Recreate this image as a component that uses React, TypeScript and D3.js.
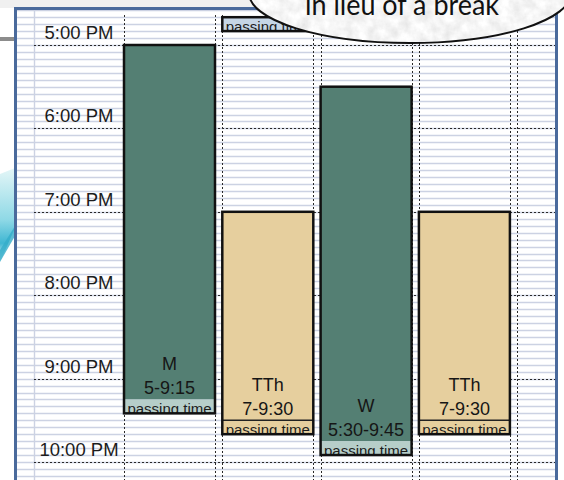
import React from "react";
import * as d3 from "d3";

// schedule data (times as h:mm, 24h)
const days = ["M", "TTh", "W", "TTh"];
const spans = ["5-9:15", "7-9:30", "5:30-9:45", "7-9:30"];
const classStart = ["17:00", "19:00", "17:30", "19:00"];
const classEnd = ["21:15", "21:30", "21:45", "21:30"];
const passingEnd = ["21:25", "21:40", "21:55", "21:40"];

// the stray passing-time block above 5 PM in the TTh column
const topPassingCol = [1];
const topPassingFrom = ["16:40"];
const topPassingTo = ["16:50"];

const hourTicks = ["17:00", "18:00", "19:00", "20:00", "21:00", "22:00"];
const hourLabels = ["5:00 PM", "6:00 PM", "7:00 PM", "8:00 PM", "9:00 PM", "10:00 PM"];
const calloutText = "in lieu of a break";

const toMin = (s: string) => {
  const [h, m] = s.split(":").map(Number);
  return h * 60 + m;
};

const W = 564;
const H = 480;

const GREEN = "#547f73";
const GREEN_PASS = "#b6cec9";
const TAN = "#e6cf9e";
const TOP_PASS = "#c6d6e6";
const FONT = "'Liberation Sans', Arial, sans-serif";

export default function App() {
  const y = d3
    .scaleLinear()
    .domain([toMin(hourTicks[0]), toMin(hourTicks[hourTicks.length - 1])])
    .range([45, 462]);

  const x = d3
    .scaleBand<number>()
    .domain(d3.range(5))
    .range([124, 608.2])
    .paddingInner(0.0743)
    .paddingOuter(0)
    .align(0);

  const bw = x.bandwidth();
  const rows = d3.range(toMin("16:15"), toMin("22:25"), 5);
  const isTan = (d: string) => d === "TTh";

  const vLines: number[] = [];
  d3.range(5).forEach((i) => {
    vLines.push(x(i)!);
    if (i < days.length) vLines.push(x(i)! + bw);
  });

  return (
    <svg
      width={W}
      height={H}
      style={{ position: "absolute", left: 0, top: 0 }}
      fontFamily={FONT}
    >
      <defs>
        <linearGradient id="swoosh" x1="0" y1="0" x2="0" y2="1">
          <stop offset="0" stopColor="#e4f6f7" />
          <stop offset="0.55" stopColor="#8fd9e6" />
          <stop offset="0.8" stopColor="#3fb6d2" />
          <stop offset="1" stopColor="#f3fafb" />
        </linearGradient>
        <filter id="paper" x="0" y="0" width="1" height="1">
          <feTurbulence type="fractalNoise" baseFrequency="0.09" numOctaves="4" seed="3" result="n" />
          <feColorMatrix
            in="n"
            type="matrix"
            values="0.35 0 0 0 0.74  0.35 0 0 0 0.74  0.35 0 0 0 0.74  0 0 0 0 1"
            result="g"
          />
          <feComposite in="g" in2="SourceGraphic" operator="in" />
        </filter>
        <clipPath id="frameClip">
          <rect x={17} y={10} width={538} height={H} />
        </clipPath>
      </defs>

      {/* slide background */}
      <rect x={0} y={0} width={W} height={H} fill="#ffffff" />
      <rect x={0} y={0} width={W} height={8} fill="#f0f0f0" />
      <rect x={0} y={37} width={15} height={4} fill="#8c8c8c" />
      <path d="M0,174 L15,168 L15,228 L0,262 Z" fill="url(#swoosh)" />
      <path d="M0,250 L15,226 L15,236 L0,262 Z" fill="#35acc9" opacity={0.8} />

      {/* frame */}
      <rect x={15.5} y={8.5} width={541} height={H} fill="#ffffff" stroke="#4a6a9c" strokeWidth={3} />

      <g clipPath="url(#frameClip)">
        {/* spreadsheet rows */}
        {rows.map((m) => (
          <line
            key={m}
            x1={17}
            x2={555}
            y1={Math.round(y(m)) + 0.5}
            y2={Math.round(y(m)) + 0.5}
            stroke="#ccd2e3"
            strokeWidth={1.4}
          />
        ))}
        <line x1={34.5} x2={34.5} y1={10} y2={H} stroke="#ccd2e3" strokeWidth={1.4} />

        {/* dotted hour lines */}
        {hourTicks.map((t) => (
          <line
            key={t}
            x1={34}
            x2={555}
            y1={Math.round(y(toMin(t))) + 0.5}
            y2={Math.round(y(toMin(t))) + 0.5}
            stroke="#2a2a2a"
            strokeDasharray="2,2"
          />
        ))}
        {/* dotted column edges */}
        {vLines.map((v, i) => (
          <line
            key={i}
            x1={Math.round(v) + 0.5}
            x2={Math.round(v) + 0.5}
            y1={15}
            y2={H}
            stroke="#2a2a2a"
            strokeDasharray="2,2"
          />
        ))}

        {/* hour labels */}
        {hourTicks.map((t, i) => (
          <text key={t} x={79} y={y(toMin(t)) - 6} fontSize={18.5} textAnchor="middle" fill="#1c1c1c">
            {hourLabels[i]}
          </text>
        ))}

        {/* stray top passing block */}
        {topPassingCol.map((c, i) => {
          const y0 = y(toMin(topPassingFrom[i]));
          const y1 = y(toMin(topPassingTo[i]));
          return (
            <g key={"tp" + i}>
              <clipPath id={"tpc" + i}>
                <rect x={x(c)!} y={y0} width={bw} height={y1 - y0} />
              </clipPath>
              <rect x={x(c)!} y={y0} width={bw} height={y1 - y0} fill={TOP_PASS} />
              <text
                x={x(c)! + bw / 2}
                y={y1 + 0.5}
                fontSize={15}
                textAnchor="middle"
                fill="#1c1c1c"
                clipPath={`url(#tpc${i})`}
              >
                passing time
              </text>
              <rect x={x(c)!} y={y0} width={bw} height={y1 - y0} fill="none" stroke="#111" strokeWidth={2.5} />
            </g>
          );
        })}

        {/* class blocks */}
        {days.map((d, i) => {
          const x0 = x(i)!;
          const ys = y(toMin(classStart[i]));
          const ye = y(toMin(classEnd[i]));
          const yp = y(toMin(passingEnd[i]));
          const tan = isTan(d);
          return (
            <g key={i}>
              <clipPath id={"pc" + i}>
                <rect x={x0} y={ye} width={bw} height={yp - ye} />
              </clipPath>
              <rect x={x0} y={ys} width={bw} height={ye - ys} fill={tan ? TAN : GREEN} />
              <rect x={x0} y={ye} width={bw} height={yp - ye} fill={tan ? TAN : GREEN_PASS} />
              {tan && <line x1={x0} x2={x0 + bw} y1={ye} y2={ye} stroke="#222" strokeWidth={1.5} />}
              <text
                x={x0 + bw / 2}
                y={yp + 0.5}
                fontSize={15}
                textAnchor="middle"
                fill="#1c1c1c"
                clipPath={`url(#pc${i})`}
              >
                passing time
              </text>
              <rect x={x0} y={ys} width={bw} height={yp - ys} fill="none" stroke="#111" strokeWidth={2.5} />
              <text x={x0 + bw / 2} y={ye - 29} fontSize={18} textAnchor="middle" fill="#161616">
                {d}
              </text>
              <text x={x0 + bw / 2} y={ye - 5} fontSize={18} textAnchor="middle" fill="#161616">
                {spans[i]}
              </text>
            </g>
          );
        })}
      </g>

      {/* callout */}
      <ellipse cx={410} cy={-7} rx={161} ry={50} fill="#e8e8e8" />
      <ellipse cx={410} cy={-7} rx={161} ry={50} fill="#e8e8e8" filter="url(#paper)" />
      <ellipse cx={410} cy={-7} rx={161} ry={50} fill="none" stroke="#111" strokeWidth={2} />
      <text
        x={402}
        y={15}
        fontSize={28}
        textAnchor="middle"
        fontFamily="Lato, 'Open Sans', sans-serif"
        fill="#111"
        textLength={194}
        lengthAdjust="spacingAndGlyphs"
      >
        {calloutText}
      </text>
    </svg>
  );
}
